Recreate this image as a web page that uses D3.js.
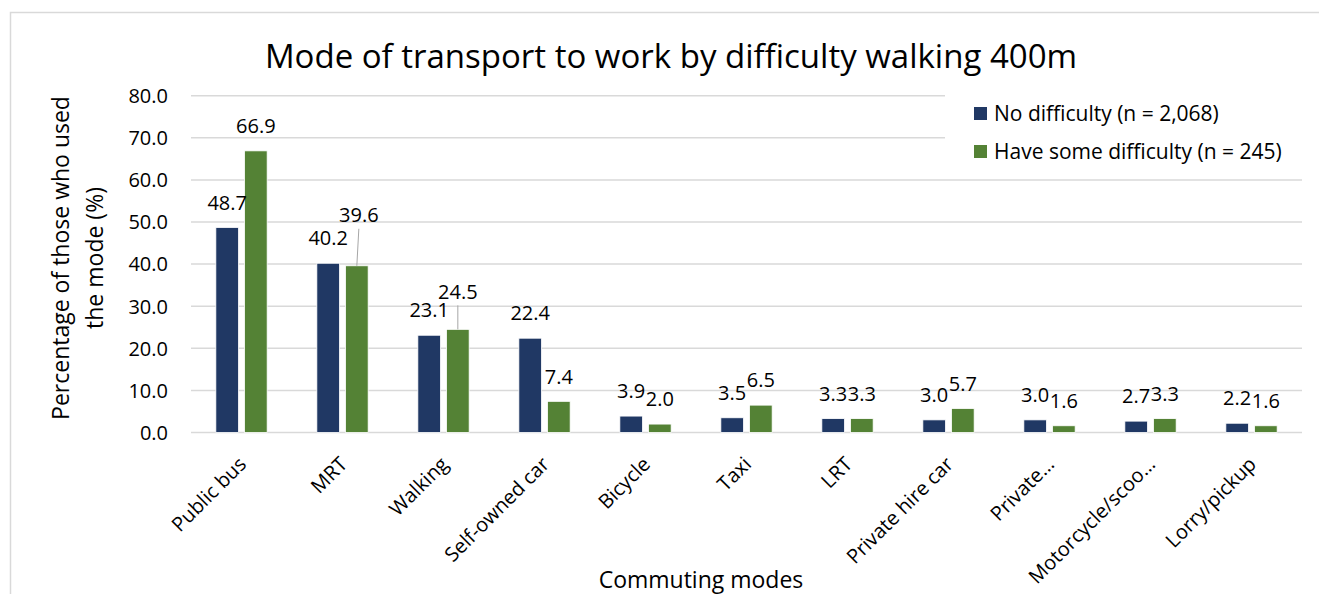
<!DOCTYPE html>
<html>
<head>
<meta charset="utf-8" />
<script src="https://d3js.org/d3.v7.min.js"></script>
<style>
    body {
        margin: 0;
        background: #fff;
    }
    svg text {
        font-family: "Open Sans", "Noto Sans", sans-serif;
        fill: #000;
    }
    .grid line {
        stroke: #d9d9d9;
        stroke-width: 1.5;
    }
    .tick-label {
        font-size: 20px;
    }
    .cat-label {
        font-size: 20px;
    }
    .data-label {
        font-size: 20px;
    }
</style>
</head>
<body>
<div id="chart"></div>
<script>
    'use strict';

    var categories = ['Public bus', 'MRT', 'Walking', 'Self-owned car', 'Bicycle', 'Taxi',
        'LRT', 'Private hire car', 'Private\u2026', 'Motorcycle/scoo\u2026', 'Lorry/pickup'];
    var seriesNames = ['No difficulty (n = 2,068)', 'Have some difficulty (n = 245)'];
    var noDifficulty = [48.7, 40.2, 23.1, 22.4, 3.9, 3.5, 3.3, 3.0, 3.0, 2.7, 2.2];
    var someDifficulty = [66.9, 39.6, 24.5, 7.4, 2.0, 6.5, 3.3, 5.7, 1.6, 3.3, 1.6];
    var yTicks = [0, 10, 20, 30, 40, 50, 60, 70, 80];

    var colors = ['#203864', '#548235'];

    var width = 1319;
    var height = 594;
    var margin = {left: 191, right: 17, top: 95.7, bottom: 161.5};

    var svg = d3.select('#chart')
        .append('svg')
        .attr('width', width)
        .attr('height', height);

    // chart frame
    svg.append('rect')
        .attr('x', 10.5)
        .attr('y', 12.5)
        .attr('width', 1340)
        .attr('height', 620)
        .attr('fill', '#fff')
        .attr('stroke', '#d9d9d9')
        .attr('stroke-width', 1.5);

    var x = d3.scaleBand()
        .domain(categories)
        .range([margin.left, width - margin.right]);

    var xs = d3.scaleBand()
        .domain([0, 1])
        .range([x.bandwidth() * 0.246, x.bandwidth() * 0.754])
        .paddingInner(0.21);

    var y = d3.scaleLinear()
        .domain([0, 80])
        .range([height - margin.bottom, margin.top]);

    // gridlines
    svg.append('g')
        .attr('class', 'grid')
        .selectAll('line')
        .data(yTicks)
        .enter()
        .append('line')
        .attr('x1', margin.left)
        .attr('x2', width - margin.right)
        .attr('y1', function(d) { return y(d); })
        .attr('y2', function(d) { return y(d); });

    // y axis labels
    var yAxis = d3.axisLeft(y)
        .tickValues(yTicks)
        .tickFormat(d3.format('.1f'))
        .tickSize(0)
        .tickPadding(0);

    var yg = svg.append('g')
        .attr('transform', 'translate(' + (margin.left - 23) + ',0)')
        .call(yAxis);
    yg.select('.domain').remove();
    yg.selectAll('text')
        .attr('class', 'tick-label')
        .attr('font-family', null)
        .attr('font-size', null)
        .attr('dy', '0.34em');

    // bars
    var series = [noDifficulty, someDifficulty];
    var groups = svg.selectAll('.group')
        .data(categories)
        .enter()
        .append('g')
        .attr('class', 'group')
        .attr('transform', function(d) { return 'translate(' + x(d) + ',0)'; });

    groups.selectAll('rect')
        .data(function(d, i) {
            return series.map(function(s, k) { return {k: k, v: s[i], i: i}; });
        })
        .enter()
        .append('rect')
        .attr('x', function(d) { return xs(d.k); })
        .attr('width', xs.bandwidth())
        .attr('y', function(d) { return y(d.v); })
        .attr('height', function(d) { return y(0) - y(d.v); })
        .attr('fill', function(d) { return colors[d.k]; })
        .attr('stroke', '#fff')
        .attr('stroke-width', 0.8);

    // labels that were dragged up in the original, with leader lines
    var labelNudge = {'1-1': {dx: 2, dy: -26}, '2-1': {dx: 0, dy: -13}};

    groups.selectAll('.data-label')
        .data(function(d, i) {
            return series.map(function(s, k) { return {k: k, v: s[i], i: i}; });
        })
        .enter()
        .each(function(d) {
            var g = d3.select(this);
            var cx = xs(d.k) + xs.bandwidth() / 2;
            var top = y(d.v);
            var n = labelNudge[d.i + '-' + d.k] || {dx: 0, dy: 0};
            if (n.dy) {
                g.append('line')
                    .attr('x1', cx + n.dx)
                    .attr('y1', top - 25 + n.dy + 14)
                    .attr('x2', cx)
                    .attr('y2', top)
                    .attr('stroke', '#a6a6a6')
                    .attr('stroke-width', 1);
            }
            g.append('text')
                .attr('class', 'data-label')
                .attr('x', cx + n.dx)
                .attr('y', top - 25 + n.dy)
                .attr('dy', '0.36em')
                .attr('text-anchor', 'middle')
                .text(d3.format('.1f')(d.v));
        });

    // x axis labels
    svg.append('g')
        .selectAll('text')
        .data(categories)
        .enter()
        .append('text')
        .attr('class', 'cat-label')
        .attr('text-anchor', 'end')
        .attr('transform', function(d) {
            return 'translate(' + (x(d) + x.bandwidth() / 2 + 6) + ',' + (y(0) + 33) + ') rotate(-45)';
        })
        .text(function(d) { return d; });

    // title
    svg.append('text')
        .attr('x', 671)
        .attr('y', 68)
        .attr('text-anchor', 'middle')
        .style('font-size', '33px')
        .text('Mode of transport to work by difficulty walking 400m');

    // axis titles
    var yTitle = ['Percentage of those who used', 'the mode (%)'];
    svg.append('g')
        .selectAll('text')
        .data(yTitle)
        .enter()
        .append('text')
        .attr('text-anchor', 'middle')
        .attr('transform', function(d, i) {
            return 'translate(' + (69 + i * 34) + ',258) rotate(-90)';
        })
        .style('font-size', '23px')
        .text(function(d) { return d; });

    svg.append('text')
        .attr('x', 701)
        .attr('y', 588)
        .attr('text-anchor', 'middle')
        .style('font-size', '23px')
        .text('Commuting modes');

    // legend
    var legend = svg.append('g')
        .attr('transform', 'translate(945,88)');
    legend.append('rect')
        .attr('width', 357)
        .attr('height', 82)
        .attr('fill', '#fff');
    var item = legend.selectAll('.item')
        .data(seriesNames)
        .enter()
        .append('g')
        .attr('transform', function(d, i) { return 'translate(29,' + (19 + i * 38) + ')'; });
    item.append('rect')
        .attr('width', 13)
        .attr('height', 13)
        .attr('fill', function(d, i) { return colors[i]; });
    item.append('text')
        .attr('x', 20)
        .attr('y', 6.5)
        .attr('dy', '0.35em')
        .style('font-size', '21px')
        .text(function(d) { return d; });
</script>
</body>
</html>
